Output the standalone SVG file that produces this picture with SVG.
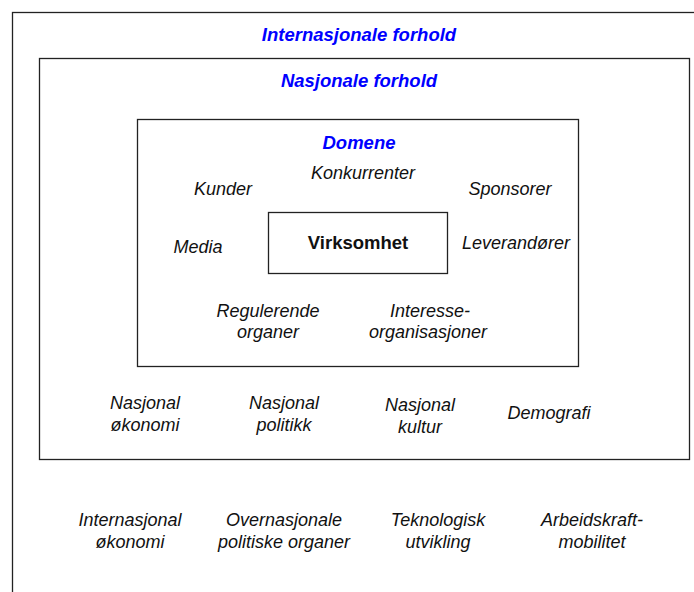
<svg xmlns="http://www.w3.org/2000/svg" width="694" height="592" viewBox="0 0 694 592">
<style>
.box{fill:none;stroke:#222;stroke-width:1.3}
.t{font-family:"Liberation Sans",Arial,sans-serif;font-style:italic;font-size:18px;fill:#111;text-anchor:middle}
.h{font-family:"Liberation Sans",Arial,sans-serif;font-style:italic;font-weight:bold;font-size:18.5px;fill:#0000ff;text-anchor:middle}
.b{font-family:"Liberation Sans",Arial,sans-serif;font-weight:bold;font-size:18.5px;fill:#111;text-anchor:middle}
</style>
<rect width="694" height="592" fill="#fff"/>
<g id="internasjonale">
<rect class="box" x="12.5" y="12.5" width="700" height="600"/>
<text class="h" x="359" y="41">Internasjonale forhold</text>
<text class="t" x="130" y="526">Internasjonal</text>
<text class="t" x="130" y="548">økonomi</text>
<text class="t" x="284" y="526">Overnasjonale</text>
<text class="t" x="284" y="548">politiske organer</text>
<text class="t" x="438" y="526">Teknologisk</text>
<text class="t" x="438" y="548">utvikling</text>
<text class="t" x="592" y="526">Arbeidskraft-</text>
<text class="t" x="592" y="548">mobilitet</text>
</g>
<g id="nasjonale">
<rect class="box" x="39.5" y="58.5" width="650" height="401"/>
<text class="h" x="359" y="87">Nasjonale forhold</text>
<text class="t" x="145" y="409">Nasjonal</text>
<text class="t" x="145" y="431">økonomi</text>
<text class="t" x="284" y="409">Nasjonal</text>
<text class="t" x="284" y="431">politikk</text>
<text class="t" x="420" y="411">Nasjonal</text>
<text class="t" x="420" y="433">kultur</text>
<text class="t" x="549" y="419">Demografi</text>
</g>
<g id="domene">
<rect class="box" x="137.5" y="119.5" width="441" height="247"/>
<text class="h" x="359" y="149">Domene</text>
<text class="t" x="363" y="179">Konkurrenter</text>
<text class="t" x="223" y="195">Kunder</text>
<text class="t" x="510" y="195">Sponsorer</text>
<text class="t" x="198" y="253">Media</text>
<text class="t" x="516" y="249">Leverandører</text>
<text class="t" x="268" y="317">Regulerende</text>
<text class="t" x="268" y="338">organer</text>
<text class="t" x="430" y="317">Interesse-</text>
<text class="t" x="428" y="338">organisasjoner</text>
</g>
<g id="virksomhet">
<rect class="box" x="268.5" y="212.5" width="179" height="61"/>
<text class="b" x="358" y="249">Virksomhet</text>
</g>
<g id="connectors"></g>
</svg>
